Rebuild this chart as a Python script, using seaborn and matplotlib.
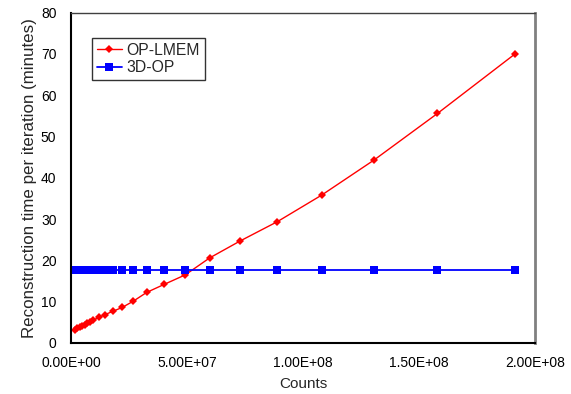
import matplotlib
matplotlib.use("Agg")
import matplotlib.pyplot as plt
from matplotlib.ticker import FuncFormatter, MultipleLocator
import seaborn as sns
import pandas as pd

# Event counts used for each reconstruction run
counts = [1.60e6, 2.72e6, 3.76e6, 4.75e6, 5.92e6, 7.04e6, 8.21e6, 9.63e6,
          1.197e7, 1.456e7, 1.814e7, 2.203e7, 2.691e7, 3.261e7, 4.017e7,
          4.924e7, 5.974e7, 7.287e7, 8.898e7, 1.0799e8, 1.3058e8,
          1.5797e8, 1.9136e8]

# Time per iteration (minutes)
op_lmem = [3.2, 3.55, 3.9, 4.1, 4.4, 4.75, 5.1, 5.55, 6.2, 6.85, 7.7, 8.6,
           10.15, 12.25, 14.2, 16.5, 20.6, 24.7, 29.4, 35.8, 44.3, 55.6, 70.0]
op_3d = [17.7] * len(counts)

series_names = ["OP-LMEM", "3D-OP"]
x_ticks = [0, 5e7, 1e8, 1.5e8, 2e8]

df = pd.DataFrame({
    "Counts": counts * 2,
    "Time": op_lmem + op_3d,
    "Method": [series_names[0]] * len(counts) + [series_names[1]] * len(counts),
})

sns.set_style("white")
plt.rcParams["font.family"] = ["Liberation Sans", "DejaVu Sans"]

fig = plt.figure(figsize=(5.71, 3.94), dpi=100)
ax = fig.add_axes([71 / 571, 1 - 343 / 394, (535 - 71) / 571, (343 - 12.7) / 394])

sns.lineplot(data=df[df.Method == series_names[0]], x="Counts", y="Time",
             color="#ff0000", lw=1.0, marker="D", markersize=4,
             markeredgewidth=0, label=series_names[0], ax=ax)
sns.lineplot(data=df[df.Method == series_names[1]], x="Counts", y="Time",
             color="#0000ff", lw=1.3, marker="s", markersize=5.5,
             markeredgewidth=0, label=series_names[1], ax=ax)

ax.set_xlim(0, 2e8)
ax.set_ylim(0, 80)
ax.set_xticks(x_ticks)
ax.xaxis.set_major_formatter(FuncFormatter(lambda v, p: f"{v:.2E}"))
ax.yaxis.set_major_locator(MultipleLocator(10))
ax.tick_params(axis="both", direction="inout", length=7, width=1.2,
               labelsize=10, colors="black")
ax.tick_params(axis="x", pad=6)
ax.tick_params(axis="y", pad=7)

ax.set_xlabel("Counts", fontsize=11, labelpad=5)
ax.set_ylabel("Reconstruction time per iteration (minutes)", fontsize=12.2,
              labelpad=3)

for side in ["left", "bottom"]:
    ax.spines[side].set_color("black")
    ax.spines[side].set_linewidth(1.5)
ax.spines["top"].set_color("#404040")
ax.spines["top"].set_linewidth(1.0)
ax.spines["right"].set_color("#808080")
ax.spines["right"].set_linewidth(2.0)

leg = ax.legend(loc="upper left", bbox_to_anchor=((92 - 71) / 464, (343 - 38) / 330.3),
                fontsize=11.3, frameon=True, fancybox=False, borderpad=0.3,
                handlelength=1.6, handletextpad=0.3, labelspacing=0.15,
                borderaxespad=0)
leg.get_frame().set_edgecolor("black")
leg.get_frame().set_linewidth(1.0)

fig.savefig("out.png", dpi=100)
